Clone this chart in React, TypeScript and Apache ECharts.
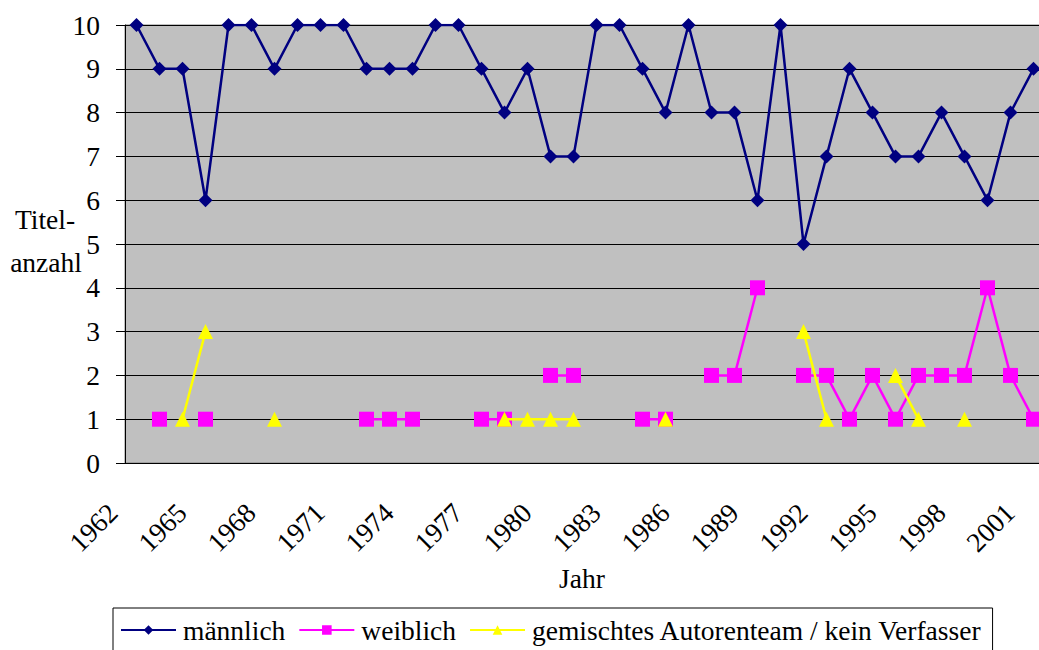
import React, { useEffect, useRef } from "react";
import * as echarts from "echarts";

const years = [
  "1962", "1963", "1964", "1965", "1966", "1967", "1968", "1969", "1970", "1971",
  "1972", "1973", "1974", "1975", "1976", "1977", "1978", "1979", "1980", "1981",
  "1982", "1983", "1984", "1985", "1986", "1987", "1988", "1989", "1990", "1991",
  "1992", "1993", "1994", "1995", "1996", "1997", "1998", "1999", "2000", "2001",
];

const maennlich = [
  10, 9, 9, 6, 10, 10, 9, 10, 10, 10,
  9, 9, 9, 10, 10, 9, 8, 9, 7, 7,
  10, 10, 9, 8, 10, 8, 8, 6, 10, 5,
  7, 9, 8, 7, 7, 8, 7, 6, 8, 9,
];

const weiblich = [
  null, 1, null, 1, null, null, null, null, null, null,
  1, 1, 1, null, null, 1, 1, null, 2, 2,
  null, null, 1, 1, null, 2, 2, 4, null, 2,
  2, 1, 2, 1, 2, 2, 2, 4, 2, 1,
];

const gemischt = [
  null, null, 1, 3, null, null, 1, null, null, null,
  null, null, null, null, null, null, 1, 1, 1, 1,
  null, null, null, 1, null, null, null, null, null, 3,
  1, null, null, 2, 1, null, 1, null, null, null,
];

const seriesNames = ["männlich", "weiblich", "gemischtes Autorenteam / kein Verfasser"];

const FONT = "Liberation Serif";
const FS = 27.5;

export default function App() {
  const ref = useRef<HTMLDivElement>(null);
  useEffect(() => {
    if (!ref.current) return;
    const chart = echarts.init(ref.current, null, { renderer: "svg" });
    chart.setOption({
      animation: false,
      backgroundColor: "#ffffff",
      textStyle: { fontFamily: FONT, color: "#000" },
      grid: {
        left: 125,
        top: 25,
        width: 920,
        height: 438,
        outerBoundsMode: "none",
        containLabel: false,
        show: true,
        backgroundColor: "#C0C0C0",
        borderColor: "#808080",
        borderWidth: 1,
      },
      xAxis: {
        type: "category",
        data: years,
        boundaryGap: true,
        axisLine: { lineStyle: { color: "#000", width: 1 } },
        axisTick: { interval: 0, length: 9, lineStyle: { color: "#000" } },
        axisLabel: {
          interval: 2,
          rotate: 45,
          margin: 22,
          padding: [0, 33, 0, 0],
          fontFamily: FONT,
          fontSize: FS,
          color: "#000",
        },
        splitLine: { show: false },
      },
      yAxis: {
        type: "value",
        min: 0,
        max: 10,
        interval: 1,
        axisLine: { show: true, lineStyle: { color: "#000", width: 1 } },
        axisTick: { show: true, length: 9, lineStyle: { color: "#000" } },
        axisLabel: { margin: 25, fontFamily: FONT, fontSize: FS, color: "#000" },
        splitLine: { show: true, lineStyle: { color: "#000", width: 1 } },
      },
      graphic: [
        {
          type: "text",
          x: 45,
          y: 219,
          style: {
            text: "Titel-",
            fontFamily: FONT,
            fontSize: FS,
            fill: "#000",
            align: "center",
            verticalAlign: "middle",
          },
        },
        {
          type: "text",
          x: 46,
          y: 262,
          style: {
            text: "anzahl",
            fontFamily: FONT,
            fontSize: FS,
            fill: "#000",
            align: "center",
            verticalAlign: "middle",
          },
        },
        {
          type: "text",
          x: 582,
          y: 578,
          style: {
            text: "Jahr",
            fontFamily: FONT,
            fontSize: FS,
            fill: "#000",
            align: "center",
            verticalAlign: "middle",
          },
        },
      ],
      legend: {
        data: seriesNames,
        left: 113,
        top: 608,
        padding: [8, 10, 30, 7],
        borderColor: "#000",
        borderWidth: 1,
        itemWidth: 55,
        itemHeight: 12,
        itemGap: 13,
        textStyle: { fontFamily: FONT, fontSize: FS, color: "#000", padding: [0, 0, 0, 2] },
      },
      series: [
        {
          name: seriesNames[0],
          type: "line",
          data: maennlich,
          symbol: "diamond",
          symbolSize: 14,
          lineStyle: { color: "#000080", width: 2.5 },
          itemStyle: { color: "#000080" },
          z: 2,
        },
        {
          name: seriesNames[1],
          type: "line",
          data: weiblich,
          symbol: "rect",
          symbolSize: 15,
          lineStyle: { color: "#FF00FF", width: 2.5 },
          itemStyle: { color: "#FF00FF" },
          z: 3,
        },
        {
          name: seriesNames[2],
          type: "line",
          data: gemischt,
          symbol: "triangle",
          symbolSize: 15,
          lineStyle: { color: "#FFFF00", width: 2.5 },
          itemStyle: { color: "#FFFF00" },
          z: 4,
        },
      ],
    });
    return () => chart.dispose();
  }, []);
  return (
    <div
      ref={ref}
      style={{ position: "fixed", left: 0, top: 0, width: 1039, height: 650 }}
    />
  );
}
